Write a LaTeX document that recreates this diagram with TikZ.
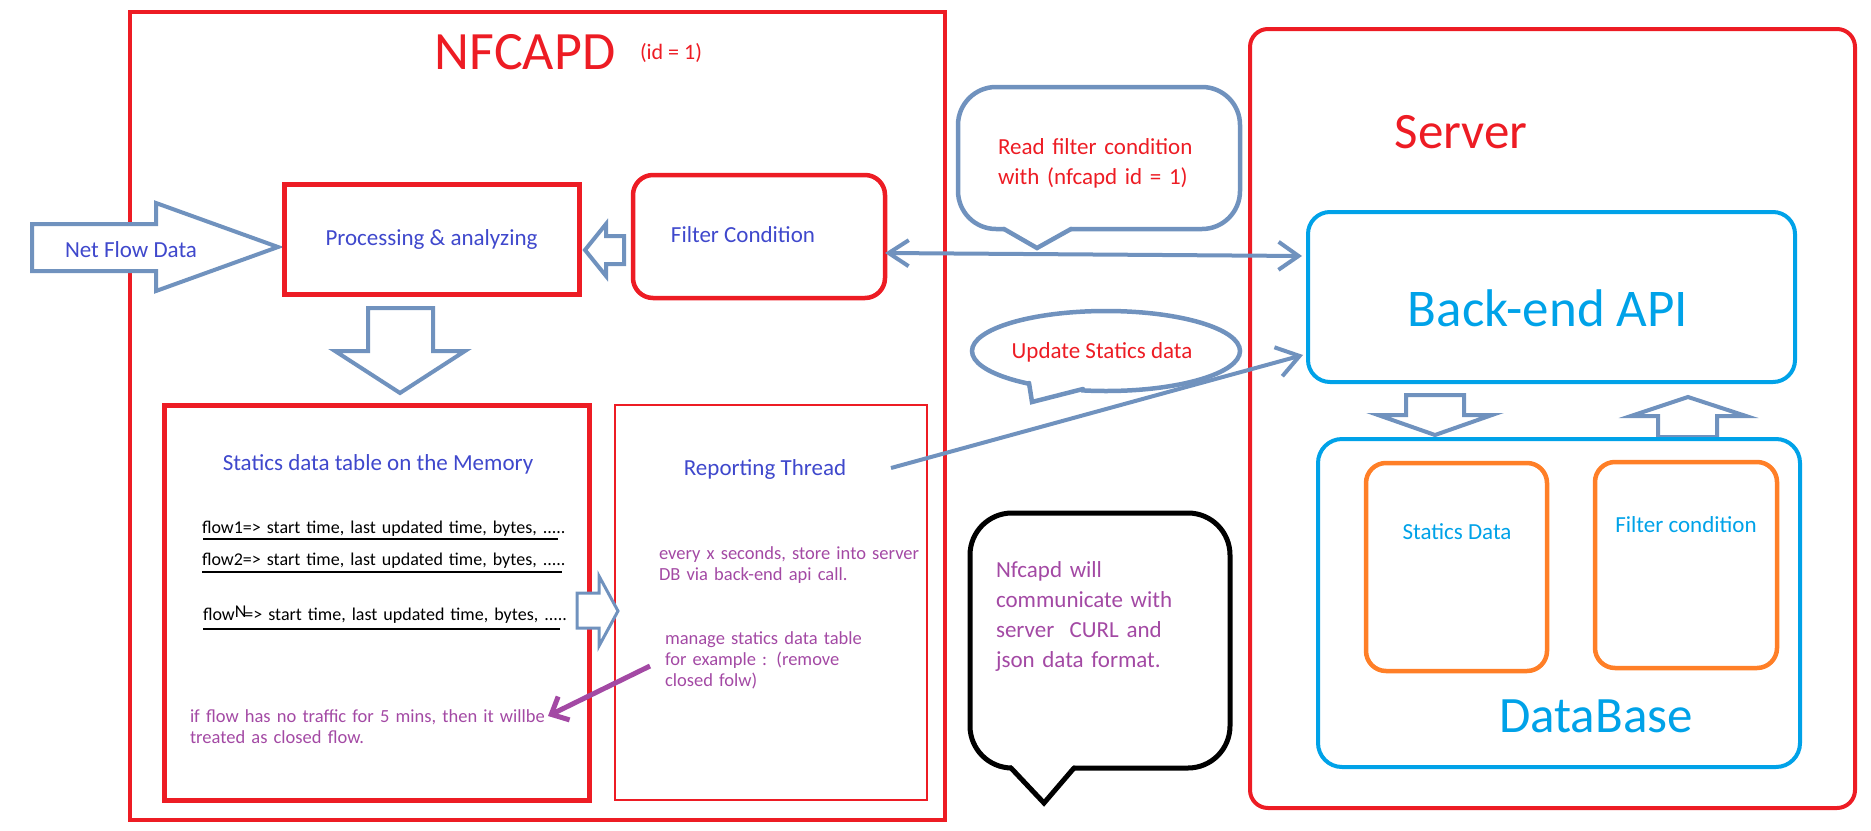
\documentclass[tikz,border=0pt]{standalone}
\usepackage{fontspec}
\setmainfont{Carlito}
\usetikzlibrary{arrows.meta,shapes.geometric}
\definecolor{pred}{RGB}{237,28,36}
\definecolor{pblue}{RGB}{112,146,190}
\definecolor{pind}{RGB}{63,72,204}
\definecolor{plb}{RGB}{0,162,232}
\definecolor{porg}{RGB}{255,127,39}
\definecolor{ppur}{RGB}{163,73,164}
\newcommand{\tsz}[2]{\fontsize{#1}{#2}\selectfont}
\begin{document}
\begin{tikzpicture}[x=1pt,y=-1pt,
  every node/.style={inner sep=0pt, outer sep=0pt},
  txt/.style={font=\tsz{23}{28}},
  smalltxt/.style={font=\tsz{18.5}{21}, anchor=base west, align=left, text width=420pt},
  rowtxt/.style={font=\tsz{18}{21}, anchor=base west, align=left, text width=420pt},
  barrow/.style={draw=pblue, fill=white, line width=4pt, line join=miter},
  conn/.style={draw=pblue, line width=4pt}
]
\useasboundingbox (0,0) rectangle (1871,830);

% ---------------- NFCAPD ----------------
\node[draw=pred, line width=4pt, minimum width=815pt, minimum height=808pt] (nf) at (537.5,416) {};
\node[text=pred, font=\tsz{54}{60}] (nft) at (525,52) {NFCAPD};
\node[text=pred, font=\tsz{22}{26}] (nfid) at (671,53) {(id = 1)};

\draw[barrow] (32,224) -- (156,224) -- (156,203) -- (278,247) -- (156,291) -- (156,271) -- (32,271) -- cycle;
\node[txt, text=pind] (nfd) at (131,250) {Net Flow Data};

\node[draw=pred, line width=5pt, minimum width=295pt, minimum height=110pt, txt, text=pind] (proc) at (431.5,239) {Processing \& analyzing};

\node[draw=pred, line width=4.5pt, rounded corners=20pt, minimum width=252pt, minimum height=123pt] (fc) at (759,236.5) {};
\node[txt, text=pind] (fct) at (743,234.5) {Filter Condition};

\draw[barrow] (624,236) -- (606,236) -- (606,224) -- (585,250) -- (606,276) -- (606,264) -- (624,264) -- cycle;
\draw[barrow] (368,308) -- (433,308) -- (433,351) -- (465,351) -- (400,393) -- (335,351) -- (368,351) -- cycle;

\node[draw=pred, line width=5pt, minimum width=425pt, minimum height=395pt] (st) at (376.5,602.5) {};
\node[txt, text=pind] (stt) at (378,464) {Statics data table on the Memory};
\node[rowtxt, text=black] (r1) at (202,533) {flow1=> start time, last updated time, bytes, .....};
\node[rowtxt, text=black] (r2) at (202,565) {flow2=> start time, last updated time, bytes, .....};
\node[rowtxt, text=black] (r3) at (203,620) {flow\raisebox{3pt}{N}\kern-2pt=> start time, last updated time, bytes, .....};
\draw[line width=1.5pt] (203,539) -- (558,539);
\draw[line width=1.5pt] (202,572) -- (562,572);
\draw[line width=1.5pt] (203,629) -- (560,629);
\node[smalltxt, text=ppur] (ifl) at (190,722) {if flow has no traffic for 5 mins, then it willbe\\treated as closed flow.};

\node[draw=pred, line width=2.5pt, minimum width=312pt, minimum height=395pt] (rp) at (771,602.5) {};
\node[txt, text=pind] (rpt) at (765,469) {Reporting Thread};
\node[smalltxt, text=ppur] (evx) at (659,559) {every x seconds, store into server\\DB via back-end api call.};
\node[smalltxt, text=ppur] (mng) at (665,644) {manage statics data table\\for example : (remove\\closed folw)};

\draw[barrow, line width=3pt] (577,593) -- (599,593) -- (599,576) -- (618,611) -- (599,646) -- (599,628) -- (577,628) -- cycle;

% ---------------- Server ----------------
\node[draw=pred, line width=4pt, rounded corners=18pt, minimum width=605pt, minimum height=779pt] (srv) at (1552.5,418.5) {};
\node[text=pred, font=\tsz{51}{60}] (srvt) at (1461,132) {Server};

\node[draw=plb, line width=4pt, rounded corners=22pt, minimum width=487pt, minimum height=170pt] (api) at (1551.5,297) {};
\node[text=plb, font=\tsz{53}{60}] (apit) at (1548,308) {Back-end API};

\draw[barrow] (1406,395) -- (1464,395) -- (1464,415) -- (1492,415) -- (1435,435) -- (1378,415) -- (1406,415) -- cycle;
\draw[barrow] (1658,437) -- (1717,437) -- (1717,416) -- (1746,416) -- (1688,397) -- (1631,416) -- (1658,416) -- cycle;

\node[draw=plb, line width=4pt, rounded corners=24pt, minimum width=482pt, minimum height=328pt] (db) at (1559,603) {};
\node[draw=porg, line width=4.5pt, rounded corners=20pt, minimum width=181pt, minimum height=208pt] (sd) at (1456.5,567) {};
\node[draw=porg, line width=4.5pt, rounded corners=20pt, minimum width=182pt, minimum height=206pt] (fcd) at (1686,565) {};
\node[txt, text=plb] (sdt) at (1457,532) {Statics Data};
\node[txt, text=plb] (fcdt) at (1686,525) {Filter condition};
\node[text=plb, font=\tsz{51}{60}] (dbt) at (1596,716) {DataBase};

% ---------------- Bubbles ----------------
\node[draw=pblue, line width=4.5pt, rounded corners=38pt, minimum width=282pt, minimum height=142pt] (rf) at (1099,158) {};
\fill[white] (1005,226) rectangle (1070,232.5);
\draw[draw=pblue, line width=4.5pt, line cap=round] (1004,229) -- (1037,248) -- (1071,229);
\node[txt, text=pred, anchor=base west, align=left, text width=260pt, font=\tsz{23}{30}] (rft) at (998,154) {Read filter condition\\with (nfcapd id = 1)};

\node[draw=pblue, line width=4.5pt, ellipse, minimum width=268pt, minimum height=80pt] (us) at (1106,351) {};
\fill[white] (1031,380.5) -- (1056,385) -- (1081,387) -- (1081,394) -- (1056,392) -- (1031,388.5) -- cycle;
\draw[draw=pblue, line width=4.5pt, line cap=round] (1029,383) -- (1032,402) -- (1083,389);
\node[txt, text=pred] (ust) at (1102,352) {Update Statics data};

\node[draw=black, line width=5pt, rounded corners=42pt, minimum width=260pt, minimum height=255pt] (cm) at (1100,640.5) {};
\fill[white] (1012,765) rectangle (1073,771.5);
\draw[draw=black, line width=5pt, line cap=round] (1011,768) -- (1044,803) -- (1074,768);
\node[txt, text=ppur, anchor=base west, align=left, text width=230pt, font=\tsz{23}{30}] (cmt) at (996,577) {Nfcapd will\\communicate with\\server\ \ CURL and\\json data format.};

% ---------------- Connectors ----------------
\draw[conn, {Straight Barb[length=20pt,width=26pt]}-{Straight Barb[length=20pt,width=28pt]}] ([yshift=-16.5pt]fc.east) -- ([xshift=-6pt,yshift=41pt]api.west);
\coordinate (rpout) at (891,468);
\draw[conn, -{Straight Barb[length=22pt,width=30pt]}] (rpout) -- ([xshift=-5pt,yshift=-58pt]api.west);
\coordinate (pa) at (650,666);
\coordinate (pb) at (548,716);
\draw[draw=ppur, line width=5pt, -{Straight Barb[length=14pt,width=26pt]}] (pa) -- (pb);
\end{tikzpicture}
\end{document}
